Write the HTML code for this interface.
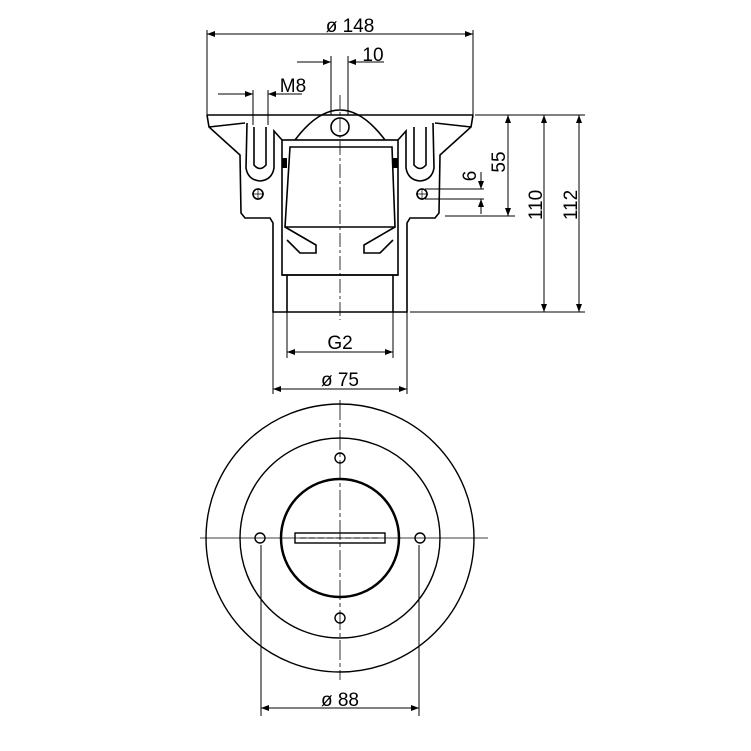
<!DOCTYPE html>
<html><head><meta charset="utf-8"><style>body{margin:0;background:#fff}svg{display:block}</style></head><body>
<svg width="751" height="751" viewBox="0 0 751 751" xmlns="http://www.w3.org/2000/svg" font-family="Liberation Sans, sans-serif">
<defs>
<marker id="a" markerWidth="8" markerHeight="6" refX="8" refY="3" orient="auto-start-reverse" markerUnits="userSpaceOnUse"><path d="M0,0 L8,3 L0,6 z" fill="#000"/></marker>
</defs>
<g stroke="#000" fill="none" stroke-width="1">
<line x1="207" y1="30" x2="207" y2="115"/><line x1="473" y1="30" x2="473" y2="115"/>
<line x1="207" y1="34" x2="473" y2="34" marker-start="url(#a)" marker-end="url(#a)"/>
<line x1="331" y1="56" x2="331" y2="115"/><line x1="348" y1="56" x2="348" y2="115"/>
<line x1="297" y1="62" x2="331" y2="62" marker-end="url(#a)"/><line x1="384" y1="62" x2="348" y2="62" marker-end="url(#a)"/>
<line x1="253" y1="90" x2="253" y2="125"/><line x1="268" y1="90" x2="268" y2="125"/>
<line x1="218" y1="94" x2="253" y2="94" marker-end="url(#a)"/><line x1="302" y1="94" x2="268" y2="94" marker-end="url(#a)"/>
<line x1="475" y1="115" x2="585" y2="115"/><line x1="410" y1="312" x2="585" y2="312"/>
<line x1="445" y1="216" x2="515" y2="216"/>
<line x1="508" y1="115" x2="508" y2="216" marker-start="url(#a)" marker-end="url(#a)"/>
<line x1="544" y1="115" x2="544" y2="312" marker-start="url(#a)" marker-end="url(#a)"/>
<line x1="579" y1="115" x2="579" y2="312" marker-start="url(#a)" marker-end="url(#a)"/>
<line x1="425" y1="189" x2="484" y2="189"/><line x1="425" y1="199" x2="484" y2="199"/>
<line x1="481" y1="172" x2="481" y2="189" marker-end="url(#a)"/><line x1="481" y1="214" x2="481" y2="199" marker-end="url(#a)"/>
<line x1="287" y1="312" x2="287" y2="358"/><line x1="393" y1="312" x2="393" y2="358"/>
<line x1="287" y1="352" x2="393" y2="352" marker-start="url(#a)" marker-end="url(#a)"/>
<line x1="273" y1="312" x2="273" y2="394"/><line x1="407" y1="312" x2="407" y2="394"/>
<line x1="273" y1="389" x2="407" y2="389" marker-start="url(#a)" marker-end="url(#a)"/>
<g stroke-width="1.6">
<line x1="207" y1="115" x2="473" y2="115"/>
<path d="M207,115 L209,127 L240,155 L241,213 L245,218 L270,218 L273,223 L273,312 L407,312 L407,223 L410,218 L435,218 L439,213 L440,155 L471,127 L473,115"/>
<path d="M209,127 L245,123 M471,127 L435,123"/>
<path d="M247,123 L246,168 Q248,180 260,181 Q272,180 274,168 L274,131 L282,140"/>
<path d="M433,123 L434,168 Q432,180 420,181 Q408,180 406,168 L406,131 L398,140"/>
<path d="M254,127 L254,165 Q260,172 266,165 L266,127"/>
<path d="M426,127 L426,165 Q420,172 414,165 L414,127"/>
<path d="M295,140 Q340,80 385,140"/>
<circle cx="340" cy="127" r="9"/>
<rect x="282" y="140" width="116" height="135"/>
<path d="M290,147 L392,147 L395,227 L285,227 Z"/>
<path d="M285,227 L316,245 L316,253 L300,253 L287,240 M395,227 L364,245 L364,253 L380,253 L393,240"/>
<line x1="282" y1="275" x2="398" y2="275"/>
<line x1="287" y1="275" x2="287" y2="312"/><line x1="393" y1="275" x2="393" y2="312"/>
<circle cx="258" cy="194" r="5"/><circle cx="422" cy="194" r="5"/>
</g>
<path d="M252,194 H264 M258,188 V200 M416,194 H428 M422,188 V200" stroke-width="0.7"/>
<rect x="282" y="158" width="5" height="10" fill="#000" stroke="none"/>
<rect x="393" y="158" width="5" height="10" fill="#000" stroke="none"/>
<line x1="340" y1="95" x2="340" y2="320" stroke-dasharray="14,3,3,3" stroke-width="0.8"/>
<circle cx="340" cy="538" r="134" stroke-width="1.4"/>
<circle cx="340" cy="538" r="100" stroke-width="1.4"/>
<circle cx="340" cy="538" r="59" stroke-width="2.5"/>
<rect x="295" y="533" width="90" height="10" stroke-width="1.4"/>
<line x1="300" y1="538" x2="380" y2="538" stroke-dasharray="6,3"/>
<circle cx="340" cy="458" r="5" stroke-width="1.4"/><circle cx="340" cy="618" r="5" stroke-width="1.4"/>
<circle cx="260" cy="538" r="5" stroke-width="1.4"/><circle cx="420" cy="538" r="5" stroke-width="1.4"/>
<line x1="200" y1="538" x2="488" y2="538" stroke-width="0.8"/>
<line x1="340" y1="400" x2="340" y2="680" stroke-width="0.8" stroke-dasharray="20,3,4,3"/>
<line x1="261" y1="545" x2="261" y2="716"/><line x1="419" y1="545" x2="419" y2="716"/>
<line x1="261" y1="708" x2="419" y2="708" marker-start="url(#a)" marker-end="url(#a)"/>
</g>
<g font-size="19" fill="#000" text-anchor="middle">
<text x="350" y="32">ø 148</text>
<text x="373" y="61">10</text>
<text x="293" y="92">M8</text>
<text x="340" y="349">G2</text>
<text x="340" y="386">ø 75</text>
<text x="340" y="706">ø 88</text>
<text transform="translate(505,162) rotate(-90)">55</text>
<text transform="translate(542,205) rotate(-90)">110</text>
<text transform="translate(577,205) rotate(-90)">112</text>
<text transform="translate(476,176) rotate(-90)">6</text>
</g>
</svg>
</body></html>
